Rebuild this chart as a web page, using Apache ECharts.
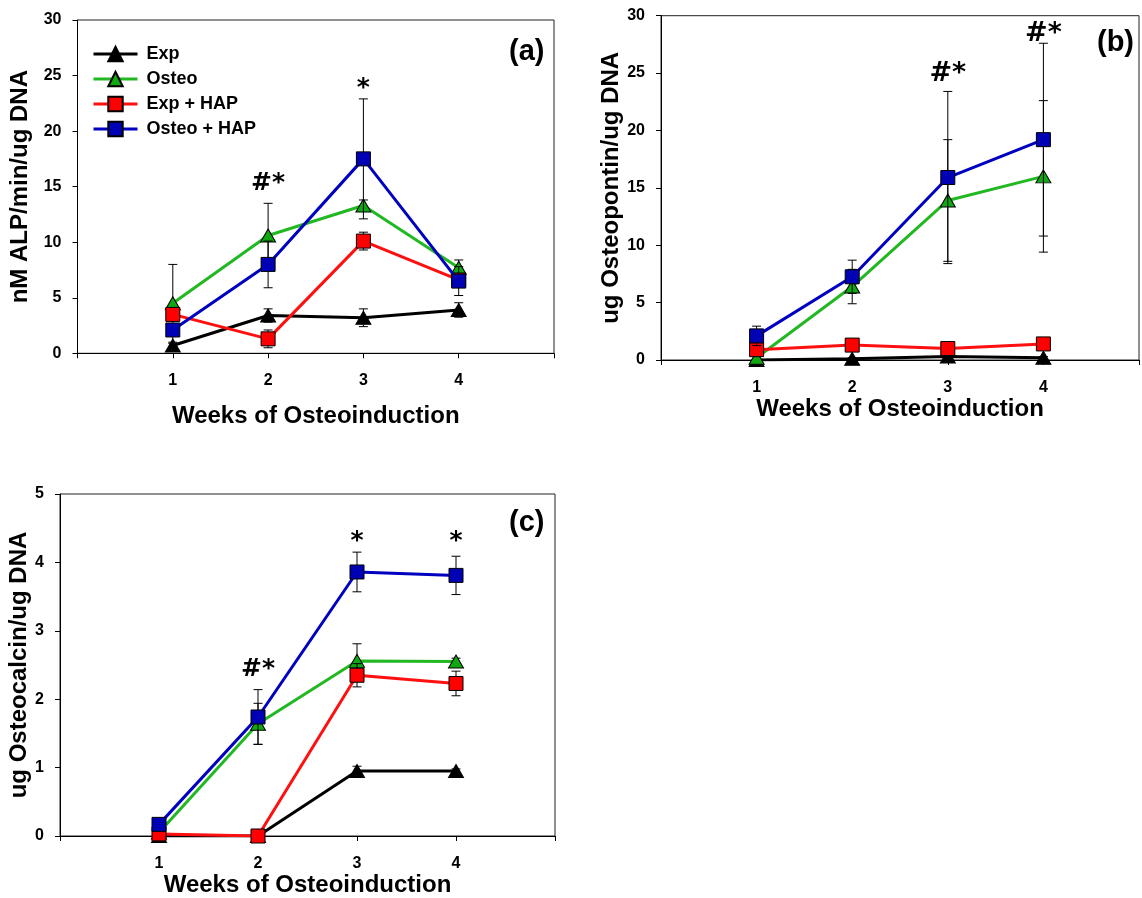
<!DOCTYPE html>
<html>
<head>
<meta charset="utf-8">
<script src="https://cdn.jsdelivr.net/npm/echarts@6/dist/echarts.min.js"></script>
<style>
  html, body { margin: 0; padding: 0; background: #fff; }
  #chart { width: 1142px; height: 898px; }
</style>
</head>
<body>
<div id="chart"></div>
<script>
// Weeks of osteoinduction (x positions)
const weeks = [1, 2, 3, 4];
const groupNames = ['Exp', 'Osteo', 'Exp + HAP', 'Osteo + HAP'];

// (a) ALP activity, nM ALP/min/ug DNA
const alpExp = [0.7, 3.4, 3.2, 3.9];
const alpExpErr = [0.2, 0.6, 0.8, 0.65];
const alpOsteo = [4.5, 10.6, 13.3, 7.7];
const alpOsteoErr = [3.5, 2.9, 0.5, 0.7];
const alpExpHap = [3.5, 1.3, 10.1, 6.6];
const alpExpHapErr = [0.3, 0.8, 0.8, 0.5];
const alpOsteoHap = [2.1, 8.0, 17.5, 6.5];
const alpOsteoHapErr = [0.3, 2.1, 5.4, 1.3];

// (b) Osteopontin, ug/ug DNA
const opnExp = [0.0, 0.1, 0.3, 0.2];
const opnExpErr = [0.05, 0.1, 0.1, 0.1];
const opnOsteo = [0.2, 6.4, 13.9, 16.0];
const opnOsteoErr = [0.2, 1.5, 5.3, 6.6];
const opnExpHap = [0.9, 1.3, 1.0, 1.4];
const opnExpHapErr = [0.2, 0.2, 0.2, 0.2];
const opnOsteoHap = [2.1, 7.25, 15.9, 19.2];
const opnOsteoHapErr = [0.85, 1.45, 7.5, 8.4];

// (c) Osteocalcin, ug/ug DNA
const ocnExp = [0.0, 0.0, 0.95, 0.95];
const ocnExpErr = [0.0, 0.0, 0.07, 0.03];
const ocnOsteo = [0.05, 1.64, 2.56, 2.55];
const ocnOsteoErr = [0.02, 0.3, 0.25, 0.05];
const ocnExpHap = [0.03, 0.0, 2.35, 2.23];
const ocnExpHapErr = [0.01, 0.0, 0.17, 0.18];
const ocnOsteoHap = [0.17, 1.74, 3.86, 3.81];
const ocnOsteoHapErr = [0.02, 0.4, 0.29, 0.28];

// Significance marks: [week, y value, text]
const marksA = [[2, 15.3, '#*'], [3, 23.8, '*']];
const marksB = [[3, 24.9, '#*'], [4, 28.4, '#*']];
const marksC = [[3, 4.3, '*'], [4, 4.3, '*'], [2, 2.44, '#*']];

const yTicksAB = { min: 0, max: 30, interval: 5 };
const yTicksC = { min: 0, max: 5, interval: 1 };

const FONT = "'Liberation Sans', Arial, sans-serif";

const styles = [
  { symbol: 'triangle', size: [15, 13], line: '#000000', fill: '#000000' },
  { symbol: 'triangle', size: [15, 13], line: '#22b822', fill: '#10a810' },
  { symbol: 'rect', size: 14, line: '#ff1010', fill: '#ff0000' },
  { symbol: 'rect', size: 14, line: '#0000c0', fill: '#0000b4' }
];

const panels = [
  {
    grid: { left: 77.5, top: 20, width: 476.5, height: 333.3 },
    y: yTicksAB, yName: 'nM ALP/min/ug DNA', yGap: 45, xGap: 51, xMargin: 19,
    vals: [alpExp, alpOsteo, alpExpHap, alpOsteoHap],
    errs: [alpExpErr, alpOsteoErr, alpExpHapErr, alpOsteoHapErr],
    marks: marksA, markSize: 25
  },
  {
    grid: { left: 661, top: 15.7, width: 483, height: 344.3 },
    y: yTicksAB, yName: 'ug Osteopontin/ug DNA', yGap: 36, xGap: 37, xMargin: 20,
    vals: [opnExp, opnOsteo, opnExpHap, opnOsteoHap],
    errs: [opnExpErr, opnOsteoErr, opnExpHapErr, opnOsteoHapErr],
    marks: marksB, markSize: 27
  },
  {
    grid: { left: 60, top: 494, width: 495, height: 343.5 },
    y: yTicksC, yName: 'ug Osteocalcin/ug DNA', yGap: 29, xGap: 37, xMargin: 20,
    vals: [ocnExp, ocnOsteo, ocnExpHap, ocnOsteoHap],
    errs: [ocnExpErr, ocnOsteoErr, ocnExpHapErr, ocnOsteoHapErr],
    marks: marksC, markSize: 25
  }
];

const grids = [], xAxes = [], yAxes = [], series = [];

panels.forEach((p, i) => {
  grids.push(Object.assign({ show: true, borderColor: '#222', borderWidth: 1, backgroundColor: 'transparent' }, p.grid));
  xAxes.push({
    type: 'value', gridIndex: i, min: 0, max: 5, interval: 1,
    name: 'Weeks of Osteoinduction', nameLocation: 'middle', nameGap: p.xGap,
    nameTextStyle: { fontFamily: FONT, fontWeight: 'bold', fontSize: 24, color: '#000' },
    axisLine: { show: true, onZero: false, lineStyle: { color: '#000', width: 1 } },
    axisTick: { show: true, length: 5, inside: false, lineStyle: { color: '#000' } },
    axisLabel: {
      show: true, margin: p.xMargin, fontFamily: FONT, fontWeight: 'bold', fontSize: 16, color: '#000',
      formatter: v => (v >= 1 && v <= 4 ? String(v) : '')
    },
    splitLine: { show: false }
  });
  yAxes.push({
    type: 'value', gridIndex: i, min: p.y.min, max: p.y.max, interval: p.y.interval,
    name: p.yName, nameLocation: 'middle', nameGap: p.yGap, nameRotate: 90,
    nameTextStyle: { fontFamily: FONT, fontWeight: 'bold', fontSize: 24, color: '#000' },
    axisLine: { show: true, onZero: false, lineStyle: { color: '#000', width: 1 } },
    axisTick: { show: true, length: 5, inside: false, lineStyle: { color: '#000' } },
    axisLabel: { show: true, margin: 16, fontFamily: FONT, fontWeight: 'bold', fontSize: 16, color: '#000' },
    splitLine: { show: false }
  });

  p.vals.forEach((vals, k) => {
    const st = styles[k];
    // error bars of this group, drawn just beneath its own markers
    series.push({
      type: 'custom', xAxisIndex: i, yAxisIndex: i, silent: true, z: 2 + 2 * k,
      data: weeks.map((w, j) => [w, vals[j], p.errs[k][j]]),
      renderItem: (params, api) => {
        const x = api.value(0), y = api.value(1), e = api.value(2);
        if (!(e > 0)) return null;
        const lo = api.coord([x, y - e]);
        const hi = api.coord([x, y + e]);
        const cap = 4.5;
        const ls = { stroke: '#000', lineWidth: 1 };
        return {
          type: 'group',
          children: [
            { type: 'line', shape: { x1: lo[0], y1: lo[1], x2: hi[0], y2: hi[1] }, style: ls },
            { type: 'line', shape: { x1: hi[0] - cap, y1: hi[1], x2: hi[0] + cap, y2: hi[1] }, style: ls },
            { type: 'line', shape: { x1: lo[0] - cap, y1: lo[1], x2: lo[0] + cap, y2: lo[1] }, style: ls }
          ]
        };
      }
    });
    series.push({
      type: 'line', name: groupNames[k], xAxisIndex: i, yAxisIndex: i, z: 3 + 2 * k,
      data: weeks.map((w, j) => [w, vals[j]]),
      symbol: st.symbol, symbolSize: st.size, showSymbol: true,
      lineStyle: { color: st.line, width: 3 },
      itemStyle: { color: st.fill, borderColor: '#000', borderWidth: 1 },
      emphasis: { disabled: true }
    });
  });

  // significance marks above the groups
  series.push({
    type: 'custom', xAxisIndex: i, yAxisIndex: i, silent: true, z: 20,
    data: p.marks.map(m => [m[0], m[1]]),
    renderItem: (params, api) => {
      const pt = api.coord([api.value(0), api.value(1)]);
      return {
        type: 'text', x: pt[0], y: pt[1],
        style: {
          text: p.marks[params.dataIndex][2], fill: '#000',
          font: 'bold ' + p.markSize + "px 'DejaVu Sans', sans-serif",
          align: 'center', verticalAlign: 'middle'
        }
      };
    }
  });
});

const chart = echarts.init(document.getElementById('chart'), null, { renderer: 'canvas' });
chart.setOption({
  animation: false,
  backgroundColor: '#fff',
  grid: grids,
  xAxis: xAxes,
  yAxis: yAxes,
  legend: {
    data: groupNames, orient: 'vertical', left: 87, top: 40,
    itemWidth: 44, itemHeight: 18, itemGap: 7, selectedMode: false,
    lineStyle: { width: 3 },
    textStyle: { fontFamily: FONT, fontWeight: 'bold', fontSize: 18, color: '#000', lineHeight: 18, padding: [0, 0, 0, 4] }
  },
  graphic: [
    { type: 'text', left: 509, top: 37, style: { text: '(a)', font: 'bold 29px ' + FONT, fill: '#000' } },
    { type: 'text', left: 1097, top: 28, style: { text: '(b)', font: 'bold 29px ' + FONT, fill: '#000' } },
    { type: 'text', left: 509, top: 508, style: { text: '(c)', font: 'bold 29px ' + FONT, fill: '#000' } }
  ],
  series: series
});
</script>
</body>
</html>
